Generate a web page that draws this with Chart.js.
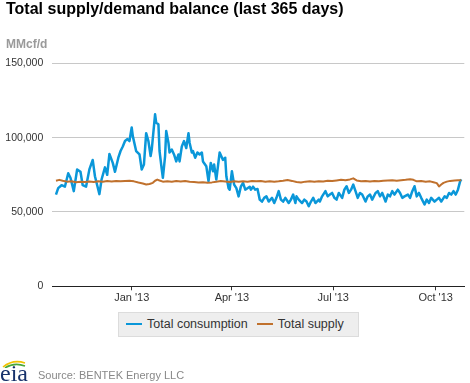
<!DOCTYPE html>
<html>
<head>
<meta charset="utf-8">
<title>Total supply/demand balance</title>
<script src="https://cdn.jsdelivr.net/npm/chart.js@4.4.1/dist/chart.umd.min.js"></script>
<style>
  html, body { margin: 0; padding: 0; background: #fff; }
  body { font-family: "Liberation Sans", Arial, sans-serif; }
  #wrap { position: relative; width: 470px; height: 383px; overflow: hidden; }
  #chartBox { position: absolute; left: 0; top: 0; width: 470px; height: 383px; }
  #title { position: absolute; left: 6px; top: 0.5px; font-size: 16px; line-height: 16px; font-weight: bold; color: #000; white-space: nowrap; }
  #unit { position: absolute; left: 6px; top: 37px; font-size: 12px; line-height: 14px; font-weight: bold; color: #9a9a9a; }
  #legend { position: absolute; left: 118px; top: 311.7px; width: 232px; height: 23px; background: #eeeeee; border: 1px solid #dcdcdc;
            display: flex; align-items: center; font-size: 12.5px; line-height: 23px; color: #333; padding-left: 7px; box-sizing: content-box; }
  #legend .swatch { display: inline-block; width: 16px; height: 2.5px; margin-right: 5px; }
  #legend .gap { width: 9px; }
  #source { position: absolute; left: 38px; top: 369px; font-size: 11px; line-height: 13px; color: #888; }
  #logo { position: absolute; left: 0; top: 358px; width: 30px; height: 25px; }
  #logo span { position: absolute; left: 0; top: 3px; font-family: "Liberation Serif", "DejaVu Serif", serif; font-size: 24px; line-height: 24px; color: #17326b; }
</style>
</head>
<body>
<div id="wrap">
  <div id="chartBox"><canvas id="chart"></canvas></div>
  <div id="title">Total supply/demand balance (last 365 days)</div>
  <div id="unit">MMcf/d</div>
  <div id="legend">
    <span class="swatch" style="background:#0a97d9"></span><span>Total consumption</span>
    <span class="gap"></span>
    <span class="swatch" style="background:#c0712d"></span><span>Total supply</span>
  </div>
  <div id="logo">
    <svg width="30" height="10" style="position:absolute;left:0;top:0">
      <path d="M3 9 Q13 1 25 5" stroke="#f2c200" stroke-width="1.6" fill="none"/>
      <path d="M5 10 Q14 4 25 8" stroke="#4aa83a" stroke-width="1.6" fill="none"/>
    </svg>
    <span>eia</span>
  </div>
  <div id="source">Source: BENTEK Energy LLC</div>
</div>
<script>
// jours comptés depuis le 1er janvier 2013
const tickDays = [0, 90, 181, 273];
const tickLabels = ["Jan '13", "Apr '13", "Jul '13", "Oct '13"];
const yTicks = [0, 50000, 100000, 150000];

const consumptionDays = [
  -68, -66, -63, -60, -57, -55, -52, -49, -46, -44, -41, -38, -35, -33, -31, -29, -27, -24, -22, -20,
  -17, -15, -12, -10, -8, -6, -4, -2, 0, 1, 4, 7, 9, 11, 13, 15, 17, 18, 21, 22,
  24, 25, 27, 28, 30, 31, 33, 34, 36, 38, 40, 42, 43, 45, 47, 49, 51, 52, 54, 55,
  57, 59, 61, 63, 64, 67, 69, 71, 73, 74, 76, 78, 79, 82, 84, 85, 87, 88, 90, 92,
  94, 96, 98, 100, 102, 104, 106, 107, 109, 111, 113, 115, 117, 119, 121, 123, 126, 128, 130, 132,
  134, 136, 138, 141, 143, 145, 147, 148, 150, 153, 155, 157, 159, 161, 163, 165, 168, 169, 171, 174,
  176, 178, 180, 182, 184, 186, 189, 191, 193, 195, 197, 199, 201, 203, 205, 207, 210, 212, 214, 216,
  219, 221, 223, 225, 228, 230, 232, 234, 236, 239, 241, 243, 245, 248, 250, 252, 254, 256, 258, 260,
  263, 265, 267, 269, 272, 274, 276, 278, 281, 283, 285, 287, 289, 291, 293, 295, 296
];
const consumption = [
  61700, 66000, 68000, 67000, 76000, 73000, 64000, 78600, 77000, 68000, 67000, 78600, 85000, 74000, 68000, 62000, 72000, 80000, 75000, 89000,
  83000, 77000, 86500, 91000, 94000, 97700, 99000, 97700, 106800, 101000, 91000, 88700, 78600, 82000, 103000, 97700, 87600, 92000, 115700, 110000,
  109000, 91000, 78600, 73000, 87600, 104500, 96600, 90000, 92000, 88700, 84000, 88700, 84000, 94000, 97700, 93000, 103000, 96600, 90000, 91000,
  86500, 90000, 88700, 90000, 84000, 80800, 70700, 83000, 77400, 82000, 71800, 84000, 90000, 85000, 86500, 74000, 66000, 65000, 77400, 68400,
  66000, 60500, 67000, 69600, 65000, 66000, 67000, 65000, 67000, 65000, 65500, 58300, 57000, 59500, 60500, 57000, 59500, 56000, 59500, 64000,
  58300, 57000, 59500, 56000, 58300, 61700, 56000, 60500, 58300, 56000, 58300, 57000, 53800, 57000, 59500, 56000, 58300, 57000, 60500, 64000,
  60500, 61700, 62800, 59500, 58300, 62800, 59500, 65000, 67300, 62800, 65000, 68400, 64000, 59500, 62800, 61700, 57000, 60500, 61700, 58300,
  62800, 64000, 60500, 62800, 57000, 61700, 60500, 64000, 61700, 65000, 62800, 59500, 60500, 61700, 59500, 64000, 67300, 60500, 62800, 59500,
  55000, 58300, 56000, 59500, 57000, 58300, 59500, 57000, 60500, 59500, 62800, 61700, 64000, 61700, 65000, 70700, 72000
];

const supplyDays = [
  -68, -65, -62, -58, -54, -50, -46, -42, -38, -34, -30, -26, -22, -18, -14, -10, -6, -2, 2, 6,
  10, 13, 16, 19, 21, 23, 25, 28, 32, 36, 40, 44, 48, 52, 56, 60, 64, 68, 72, 76,
  80, 84, 88, 92, 96, 100, 104, 108, 112, 116, 120, 124, 128, 132, 136, 140, 144, 148, 152, 156,
  160, 164, 168, 172, 176, 180, 184, 188, 192, 196, 199, 202, 206, 210, 214, 218, 222, 226, 230, 234,
  238, 242, 246, 250, 253, 256, 260, 264, 268, 271, 274, 276, 278, 280, 283, 286, 290, 293, 296
];
const supply = [
  71000, 71600, 71000, 70400, 70600, 70000, 70300, 70100, 70500, 70200, 70600, 70300, 70800, 70500, 70900, 70600, 70800, 71000, 70600, 69800,
  69200, 68500, 68800, 69600, 71000, 71800, 71200, 70400, 70600, 70300, 70800, 70500, 70900, 70400, 70100, 69800, 70000, 69600, 69900, 70400,
  70800, 70500, 70200, 70600, 70300, 70700, 70400, 70900, 70600, 70800, 70400, 70700, 70300, 70600, 71000, 71500, 70900, 70200, 69800, 70400,
  70600, 70300, 70700, 70500, 71000, 70800, 71200, 71600, 71400, 71900, 72600, 71200, 70700, 70900, 70500, 70800, 70600, 71000, 71200, 71400,
  71000, 71300, 71600, 72000, 71600, 70600, 70900, 70400, 70600, 70000, 69400, 67200, 68500, 69600, 70400, 70900, 71200, 71400, 71400
];

const toPoints = (days, vals) => days.map((d, i) => ({ x: d, y: vals[i] }));
const fontFam = '"Liberation Sans", Arial, sans-serif';

new Chart(document.querySelector('#chart'), {
  type: 'line',
  data: {
    datasets: [{
      label: 'Total consumption',
      data: toPoints(consumptionDays, consumption),
      borderColor: '#0a97d9',
      borderWidth: 2.5,
      pointRadius: 0,
      tension: 0,
      borderJoinStyle: 'round',
      order: 1
    }, {
      label: 'Total supply',
      data: toPoints(supplyDays, supply),
      borderColor: '#c0712d',
      borderWidth: 2,
      pointRadius: 0,
      tension: 0,
      borderJoinStyle: 'round',
      order: 0
    }]
  },
  options: {
    responsive: true,
    maintainAspectRatio: false,
    animation: false,
    layout: { padding: { top: 63.3, right: 5.7, bottom: 76.7, left: 0 } },
    plugins: { legend: { display: false }, tooltip: { enabled: false } },
    scales: {
      x: {
        type: 'linear',
        min: -71.3,
        max: 298.7,
        afterBuildTicks: scale => { scale.ticks = tickDays.map(v => ({ value: v })); },
        afterFit: scale => { scale.height = 20; },
        ticks: {
          callback: (v, i) => tickLabels[i],
          font: { family: fontFam, size: 11 },
          color: '#333',
          padding: 1,
          maxRotation: 0,
          autoSkip: false
        },
        grid: { drawOnChartArea: false, drawTicks: true, tickLength: 4, color: '#333' },
        border: { display: true, color: '#222', width: 1 }
      },
      y: {
        min: 0,
        max: 150000,
        afterBuildTicks: scale => { scale.ticks = yTicks.map(v => ({ value: v })); },
        afterFit: scale => { scale.width = 52.3; },
        ticks: {
          callback: v => v.toLocaleString('en-US'),
          font: { family: fontFam, size: 10.5 },
          color: '#333',
          padding: 9
        },
        grid: { color: '#c8c8c8', drawTicks: false },
        border: { display: false }
      }
    }
  }
});
</script>
</body>
</html>
